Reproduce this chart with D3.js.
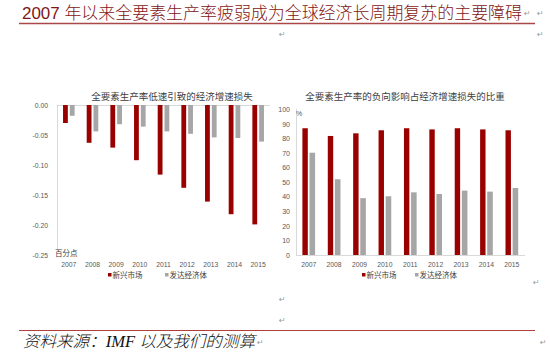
<!DOCTYPE html>
<html><head><meta charset="utf-8">
<script src="https://cdn.jsdelivr.net/npm/d3@7"></script>
<style>html,body{margin:0;padding:0;background:#fff;}svg{display:block;}</style>
</head><body>
<script>
const years = ['2007','2008','2009','2010','2011','2012','2013','2014','2015'];
const lossEmerging = [-0.030,-0.063,-0.071,-0.092,-0.116,-0.138,-0.161,-0.182,-0.199];
const lossAdvanced = [-0.018,-0.044,-0.032,-0.036,-0.044,-0.048,-0.054,-0.055,-0.061];
const shareEmerging = [87,81.7,83.5,85.6,87,86.2,87,86.2,85.6];
const shareAdvanced = [70.2,52,39,40.3,43,41.9,44.2,43.5,46];
const leftTicks = [0,-0.05,-0.10,-0.15,-0.20,-0.25];
const rightTicks = [0,10,20,30,40,50,60,70,80,90,100];
const seriesNames = ['新兴市场','发达经济体'];
const mainTitle = '2007 年以来全要素生产率疲弱成为全球经济长周期复苏的主要障碍';
const leftTitle = '全要素生产率低速引致的经济增速损失';
const rightTitle = '全要素生产率的负向影响占经济增速损失的比重';
const sourceText = '资料来源：IMF 以及我们的测算';

const RED = '#990000', GRAY = '#a6a6a6', AX = '#d9d9d9', TXT = '#595959';
const cjk = '"Noto Sans CJK SC", "Noto Sans", sans-serif';
const lat = '"Liberation Sans", Arial, sans-serif';

const svg = d3.select('body').append('svg').attr('width',550).attr('height',358);

// main title
svg.append('text').attr('x',22).attr('y',19).attr('font-size',17).attr('font-weight',300)
  .attr('font-family','"Liberation Sans", "Noto Sans CJK SC", sans-serif')
  .attr('fill','#7f1616').attr('textLength',500).attr('lengthAdjust','spacingAndGlyphs')
  .text(mainTitle);
svg.append('line').attr('x1',19).attr('x2',535).attr('y1',23.5).attr('y2',23.5)
  .attr('stroke','#a84848').attr('stroke-width',1.6);

// paragraph marks
const marks = [[524,16],[537,16],[279,37],[537,37],[533,285],[279,302],[279,323],[257,345],[540,345]];
svg.selectAll('text.pm').data(marks).join('text').attr('class','pm')
  .attr('x',d=>d[0]).attr('y',d=>d[1]).attr('font-size',8).attr('fill','#9a9a9a')
  .attr('font-family','"DejaVu Sans", sans-serif').text('↵');

// ---------- left chart ----------
const xL = d3.scaleBand().domain(years).range([57,270]);
const yL = d3.scaleLinear().domain([0,-0.25]).range([105,255]);
const gL = svg.append('g');
gL.append('text').attr('x',172).attr('y',99.5).attr('text-anchor','middle')
  .attr('font-size',9.5).attr('font-family',cjk).attr('fill','#404040').text(leftTitle);
const axL = gL.append('g').attr('transform','translate(57,0)')
  .call(d3.axisLeft(yL).tickValues(leftTicks).tickSize(0).tickPadding(9).tickFormat(d=>d.toFixed(2)));
axL.select('.domain').attr('stroke',AX).attr('d','M0.5,105V251');
axL.selectAll('text').attr('font-size',6.8).attr('font-family',lat).attr('fill',TXT);
gL.append('line').attr('x1',57).attr('x2',270).attr('y1',105.5).attr('y2',105.5).attr('stroke',AX);
gL.selectAll('rect.r').data(lossEmerging).join('rect').attr('class','r')
  .attr('x',(d,i)=>xL(years[i])+xL.bandwidth()/2-5.8).attr('width',4.8)
  .attr('y',yL(0)).attr('height',d=>yL(d)-yL(0)).attr('fill',RED);
gL.selectAll('rect.g').data(lossAdvanced).join('rect').attr('class','g')
  .attr('x',(d,i)=>xL(years[i])+xL.bandwidth()/2+1).attr('width',4.8)
  .attr('y',yL(0)).attr('height',d=>yL(d)-yL(0)).attr('fill',GRAY);
gL.selectAll('text.yr').data(years).join('text').attr('class','yr')
  .attr('x',d=>xL(d)+xL.bandwidth()/2).attr('y',266.5).attr('text-anchor','middle')
  .attr('font-size',6.8).attr('font-family',lat).attr('fill',TXT).text(d=>d);
gL.append('text').attr('x',55).attr('y',256).attr('font-size',7.5).attr('font-family',cjk)
  .attr('fill','#404040').text('百分点');

// ---------- right chart ----------
const xR = d3.scaleBand().domain(years).range([296,524.5]);
const yR = d3.scaleLinear().domain([0,100]).range([255,109.3]);
const gR = svg.append('g');
gR.append('text').attr('x',405).attr('y',99.5).attr('text-anchor','middle')
  .attr('font-size',9.5).attr('font-family',cjk).attr('fill','#404040').text(rightTitle);
const axR = gR.append('g').attr('transform','translate(296,0)')
  .call(d3.axisLeft(yR).tickValues(rightTicks).tickSize(0).tickPadding(6));
axR.select('.domain').attr('stroke',AX).attr('d','M0.5,109V255');
axR.selectAll('text').attr('font-size',7).attr('font-family',lat).attr('fill',TXT);
gR.append('line').attr('x1',296).attr('x2',525).attr('y1',255.5).attr('y2',255.5).attr('stroke',AX);
gR.selectAll('rect.r').data(shareEmerging).join('rect').attr('class','r')
  .attr('x',(d,i)=>xR(years[i])+xR.bandwidth()/2-6.3).attr('width',5.4)
  .attr('y',d=>yR(d)).attr('height',d=>yR(0)-yR(d)).attr('fill',RED);
gR.selectAll('rect.g').data(shareAdvanced).join('rect').attr('class','g')
  .attr('x',(d,i)=>xR(years[i])+xR.bandwidth()/2+0.8).attr('width',5.6)
  .attr('y',d=>yR(d)).attr('height',d=>yR(0)-yR(d)).attr('fill',GRAY);
gR.selectAll('text.yr').data(years).join('text').attr('class','yr')
  .attr('x',d=>xR(d)+xR.bandwidth()/2).attr('y',266.5).attr('text-anchor','middle')
  .attr('font-size',6.8).attr('font-family',lat).attr('fill',TXT).text(d=>d);
gR.append('text').attr('x',296).attr('y',116).attr('font-size',7).attr('font-family',lat)
  .attr('fill',TXT).text('%');

// legends
function legend(g, items){
  items.forEach(it=>{
    g.append('rect').attr('x',it.sx).attr('y',273).attr('width',3.5).attr('height',3.5).attr('fill',it.c);
    g.append('text').attr('x',it.tx).attr('y',277.8).attr('font-size',7.5).attr('font-family',cjk)
      .attr('fill','#404040').text(it.t);
  });
}
legend(gL,[{sx:108,tx:112.5,c:RED,t:seriesNames[0]},{sx:165,tx:169.5,c:GRAY,t:seriesNames[1]}]);
legend(gR,[{sx:362,tx:366.5,c:RED,t:seriesNames[0]},{sx:415,tx:419.5,c:GRAY,t:seriesNames[1]}]);

// footer
svg.append('line').attr('x1',19).attr('x2',535).attr('y1',330.5).attr('y2',330.5)
  .attr('stroke','#b04040').attr('stroke-width',1.2);
svg.append('text').attr('x',23).attr('y',347).attr('font-size',16).attr('font-style','italic').attr('font-weight',300)
  .attr('font-family','"Liberation Serif", "Noto Sans CJK SC", serif').attr('fill','#111')
  .attr('textLength',232).attr('lengthAdjust','spacingAndGlyphs').text(sourceText);
</script>
</body></html>
